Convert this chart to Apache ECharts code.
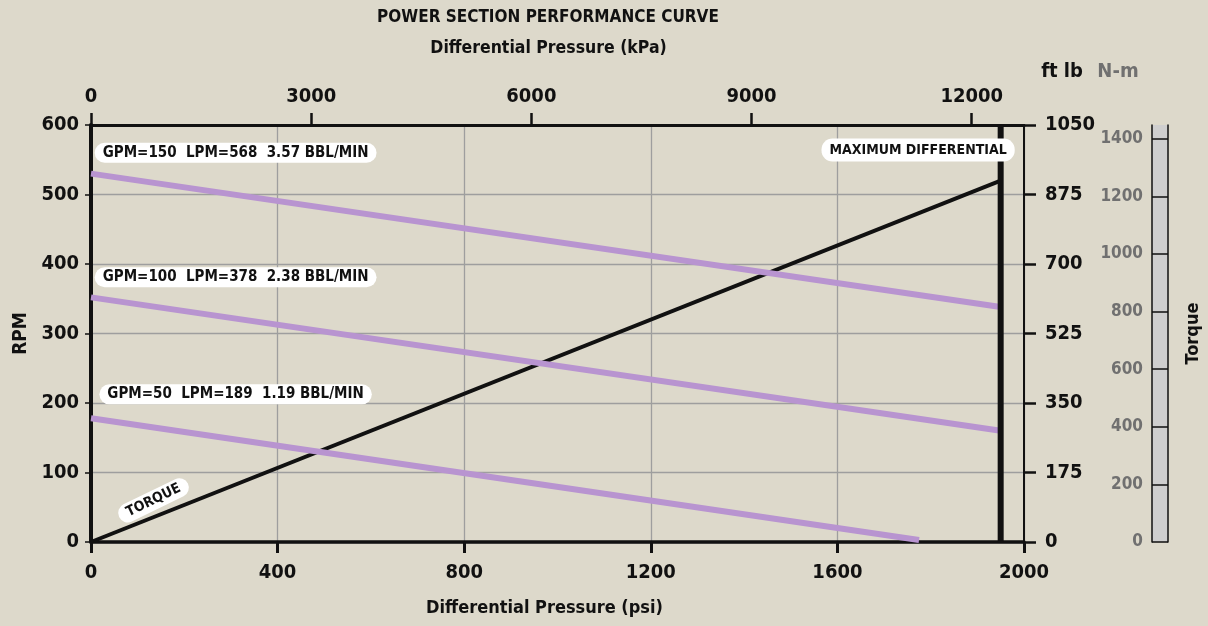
<!DOCTYPE html>
<html>
<head>
<meta charset="utf-8">
<script src="https://cdn.jsdelivr.net/npm/echarts@6/dist/echarts.min.js"></script>
<style>
html,body{margin:0;padding:0;background:#ddd9cb;}
#chart{width:1208px;height:626px;}
</style>
</head>
<body>
<div id="chart"></div>
<script>
// ---- data ----
const psiTicks = [0, 400, 800, 1200, 1600, 2000];
const kpaTicks = [0, 3000, 6000, 9000, 12000];
const rpmTicks = [0, 100, 200, 300, 400, 500, 600];
const ftlbTicks = [0, 175, 350, 525, 700, 875, 1050];
const nmTicks = [0, 200, 400, 600, 800, 1000, 1200, 1400];

const flowLabels = [
  'GPM=150  LPM=568  3.57 BBL/MIN',
  'GPM=100  LPM=378  2.38 BBL/MIN',
  'GPM=50  LPM=189  1.19 BBL/MIN'
];
const gpm150 = [[0, 530], [1950, 338]];
const gpm100 = [[0, 352], [1950, 160]];
const gpm50 = [[0, 178], [1775, 3]];
const torque = [[0, 0], [1950, 910]];           // ft lb
const maxDifferential = [[1950, 0], [1950, 600]]; // psi, RPM
const flowLabelPos = [[310, 560], [310, 381], [310, 212.5]];
const maxDiffLabelPos = [1773, 564];
const torqueLabelPos = [134, 105];

const kpaMax = 12712;   // top scale end at 2000 psi as drawn
const nmMax = 1448;     // N-m scale end as drawn

const FONT = '"Liberation Sans Narrow", "DejaVu Sans Condensed", "Noto Sans", sans-serif';
const BLACK = '#111';
const PURPLE = '#b894d0';
const GRIDC = '#9e9e9e';
const plain = v => String(v);

function boxLabel(text, extra) {
  return Object.assign({
    show: true, formatter: text, position: 'inside',
    fontFamily: FONT, fontWeight: 'bold', fontSize: 15, color: BLACK,
    backgroundColor: '#ffffff', borderRadius: 11, padding: [3, 8, 2, 8]
  }, extra || {});
}

const chart = echarts.init(document.getElementById('chart'));
const tickLabel = {fontFamily: FONT, fontWeight: 'bold', fontSize: 20, color: BLACK, formatter: plain};

const option = {
  backgroundColor: '#ddd9cb',
  animation: false,
  graphic: [
    {type: 'text', x: 548, y: 18, style: {text: 'POWER SECTION PERFORMANCE CURVE', align: 'center', verticalAlign: 'middle', font: 'bold 17px ' + FONT, fill: BLACK}},
    {type: 'text', x: 1062, y: 72, style: {text: 'ft lb', align: 'center', verticalAlign: 'middle', font: 'bold 20px ' + FONT, fill: BLACK}},
    {type: 'text', x: 1118, y: 72, style: {text: 'N-m', align: 'center', verticalAlign: 'middle', font: 'bold 20px ' + FONT, fill: '#707070'}}
  ],
  grid: [
    {left: 91, right: 184, top: 125, bottom: 84},
    {left: 1152, width: 16, top: 125, bottom: 84, show: true, backgroundColor: '#cfcfcf', borderWidth: 0}
  ],
  xAxis: [
    {
      type: 'value', gridIndex: 0, position: 'bottom', min: 0, max: 2000, interval: 400,
      axisLine: {show: true, onZero: false, lineStyle: {color: BLACK, width: 3.5}},
      axisTick: {show: true, length: 11, lineStyle: {color: BLACK, width: 3}},
      axisLabel: Object.assign({margin: 21}, tickLabel),
      splitLine: {show: true, lineStyle: {color: GRIDC, width: 1.3}},
      name: 'Differential Pressure (psi)', nameLocation: 'middle', nameGap: 57,
      nameTextStyle: {fontFamily: FONT, fontWeight: 'bold', fontSize: 18, color: BLACK, padding: [0, 26, 0, 0]}
    },
    {
      type: 'value', gridIndex: 0, position: 'top', min: 0, max: kpaMax,
      axisLine: {show: true, onZero: false, lineStyle: {color: BLACK, width: 3}},
      axisTick: {show: true, length: 12, customValues: kpaTicks, lineStyle: {color: BLACK, width: 2.5}},
      axisLabel: Object.assign({margin: 18, customValues: kpaTicks}, tickLabel),
      splitLine: {show: false},
      name: 'Differential Pressure (kPa)', nameLocation: 'middle', nameGap: 68,
      nameTextStyle: {fontFamily: FONT, fontWeight: 'bold', fontSize: 17.5, color: BLACK, padding: [0, 18, 0, 0]}
    },
    {type: 'value', gridIndex: 1, min: 0, max: 1, show: false}
  ],
  yAxis: [
    {
      type: 'value', gridIndex: 0, position: 'left', min: 0, max: 600, interval: 100,
      axisLine: {show: true, onZero: false, lineStyle: {color: BLACK, width: 4}},
      axisTick: {show: true, length: 6, lineStyle: {color: BLACK, width: 1.5}},
      axisLabel: Object.assign({margin: 12}, tickLabel),
      splitLine: {show: true, lineStyle: {color: GRIDC, width: 1.3}},
      name: 'RPM', nameLocation: 'middle', nameGap: 58, nameRotate: 90,
      nameTextStyle: {fontFamily: FONT, fontWeight: 'bold', fontSize: 19, color: BLACK}
    },
    {
      type: 'value', gridIndex: 0, position: 'right', min: 0, max: 1050, interval: 175,
      axisLine: {show: true, onZero: false, lineStyle: {color: BLACK, width: 2}},
      axisTick: {show: true, length: 12, lineStyle: {color: BLACK, width: 2.5}},
      axisLabel: Object.assign({margin: 21}, tickLabel),
      splitLine: {show: false}
    },
    {
      type: 'value', gridIndex: 1, position: 'left', min: 0, max: nmMax,
      axisLine: {show: true, onZero: false, lineStyle: {color: BLACK, width: 1.5}},
      axisTick: {show: true, inside: true, length: 16, customValues: nmTicks, lineStyle: {color: BLACK, width: 1.5}},
      axisLabel: {margin: 9, customValues: nmTicks, formatter: plain, fontFamily: FONT, fontWeight: 'bold', fontSize: 17, color: '#707070'},
      splitLine: {show: false}
    },
    {
      type: 'value', gridIndex: 1, position: 'right', min: 0, max: nmMax,
      axisLine: {show: true, onZero: false, lineStyle: {color: BLACK, width: 1.5}},
      axisTick: {show: false}, axisLabel: {show: false}, splitLine: {show: false},
      name: 'Torque', nameLocation: 'middle', nameGap: 16, nameRotate: 90,
      nameTextStyle: {fontFamily: FONT, fontWeight: 'bold', fontSize: 18, color: BLACK}
    }
  ],
  series: [
    {
      type: 'line', name: 'Torque', xAxisIndex: 0, yAxisIndex: 1, data: torque,
      showSymbol: false, silent: true, z: 3,
      lineStyle: {color: BLACK, width: 4},
      markPoint: {
        symbolSize: 0, silent: true, animation: false, z: 20,
        data: [{coord: torqueLabelPos, label: boxLabel('TORQUE', {rotate: 26, fontSize: 14, padding: [3, 9, 2, 9]})}]
      }
    },
    {
      type: 'line', name: flowLabels[0], xAxisIndex: 0, yAxisIndex: 0, data: gpm150,
      showSymbol: false, silent: true, z: 4, lineStyle: {color: PURPLE, width: 6}
    },
    {
      type: 'line', name: flowLabels[1], xAxisIndex: 0, yAxisIndex: 0, data: gpm100,
      showSymbol: false, silent: true, z: 4, lineStyle: {color: PURPLE, width: 6}
    },
    {
      type: 'line', name: flowLabels[2], xAxisIndex: 0, yAxisIndex: 0, data: gpm50,
      showSymbol: false, silent: true, z: 4, lineStyle: {color: PURPLE, width: 6}
    },
    {
      type: 'line', name: 'Maximum differential', xAxisIndex: 0, yAxisIndex: 0, data: maxDifferential,
      showSymbol: false, silent: true, z: 5, lineStyle: {color: BLACK, width: 6, cap: 'butt'}
    },
    {
      type: 'line', name: 'labels', xAxisIndex: 0, yAxisIndex: 0, data: [],
      silent: true, z: 10,
      markPoint: {
        symbolSize: 0, silent: true, z: 20,
        data: [
          {coord: flowLabelPos[0], label: boxLabel(flowLabels[0])},
          {coord: flowLabelPos[1], label: boxLabel(flowLabels[1])},
          {coord: flowLabelPos[2], label: boxLabel(flowLabels[2])},
          {coord: maxDiffLabelPos, label: boxLabel('MAXIMUM DIFFERENTIAL', {fontSize: 14, padding: [5, 8, 4, 8]})}
        ]
      }
    }
  ]
};
chart.setOption(option);
</script>
</body>
</html>
